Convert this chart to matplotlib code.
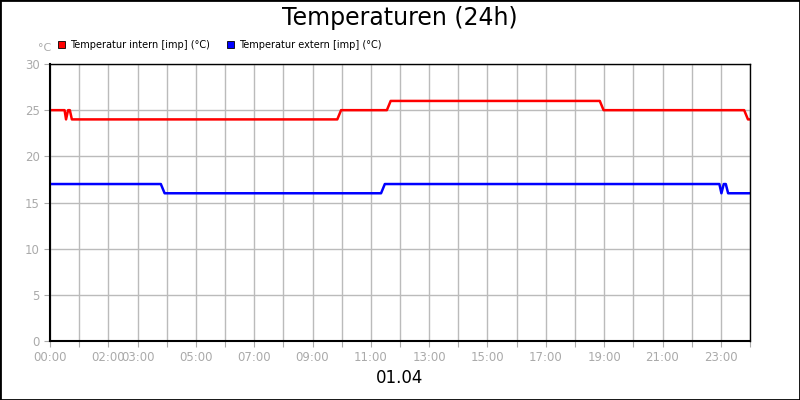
import matplotlib
matplotlib.use("Agg")
import matplotlib.pyplot as plt
from matplotlib.patches import Rectangle

intern_t = [0, 0.5, 0.55, 0.62, 0.68, 0.75, 9.85, 9.98, 11.55, 11.68, 18.85, 18.98, 23.8, 23.93, 24]
intern_v = [25, 25, 24, 25, 25, 24, 24, 25, 25, 26, 26, 25, 25, 24, 24]
extern_t = [0, 3.8, 3.93, 11.35, 11.48, 22.95, 23.02, 23.1, 23.17, 23.25, 24]
extern_v = [17, 17, 16, 16, 17, 17, 16, 17, 17, 16, 16]
tick_hours = [0, 2, 3, 5, 7, 9, 11, 13, 15, 17, 19, 21, 23]
yticks = [0, 5, 10, 15, 20, 25, 30]

fig = plt.figure(figsize=(8, 4), dpi=100)
fig.patches.append(Rectangle((0, 0), 1, 1, transform=fig.transFigure, fill=False,
                             edgecolor="black", linewidth=2))
ax = fig.add_axes([50/800, 1-341/400, 700/800, 277/400])
ax.plot(intern_t, intern_v, color="#ff0000", lw=1.8)
ax.plot(extern_t, extern_v, color="#0000ff", lw=1.8)
ax.set_xlim(0, 24)
ax.set_ylim(0, 30)
ax.set_xticks(range(25))
ax.set_xticklabels([("%02d:00" % h) if h in tick_hours else "" for h in range(25)])
ax.set_yticks(yticks)
ax.grid(True, color="#bbbbbb", lw=1)
ax.tick_params(axis="both", colors="#aaaaaa", labelcolor="#aaaaaa", labelsize=8.5, length=4)
for s in ax.spines.values():
    s.set_color("black"); s.set_linewidth(1)
ax.spines["left"].set_linewidth(1.5)
ax.spines["bottom"].set_linewidth(1.5)
ax.set_axisbelow(True)

fig.text(0.5, 1-18/400, "Temperaturen (24h)", ha="center", va="center", fontsize=17)
fig.text(0.5, 1-378/400, "01.04", ha="center", va="center", fontsize=12)
fig.text(38/800, 1-48/400, "°C", ha="left", va="center", fontsize=8, color="#aaaaaa")
for x, c, lab in [(58, "#ff0000", "Temperatur intern [imp] (°C)"),
                  (227, "#0000ff", "Temperatur extern [imp] (°C)")]:
    fig.patches.append(Rectangle((x/800, 1-48/400), 7/800, 7/400, transform=fig.transFigure,
                                 facecolor=c, edgecolor="black", lw=0.6))
    fig.text((x+12)/800, 1-44.5/400, lab, ha="left", va="center", fontsize=7)
fig.savefig("out.png", dpi=100)
